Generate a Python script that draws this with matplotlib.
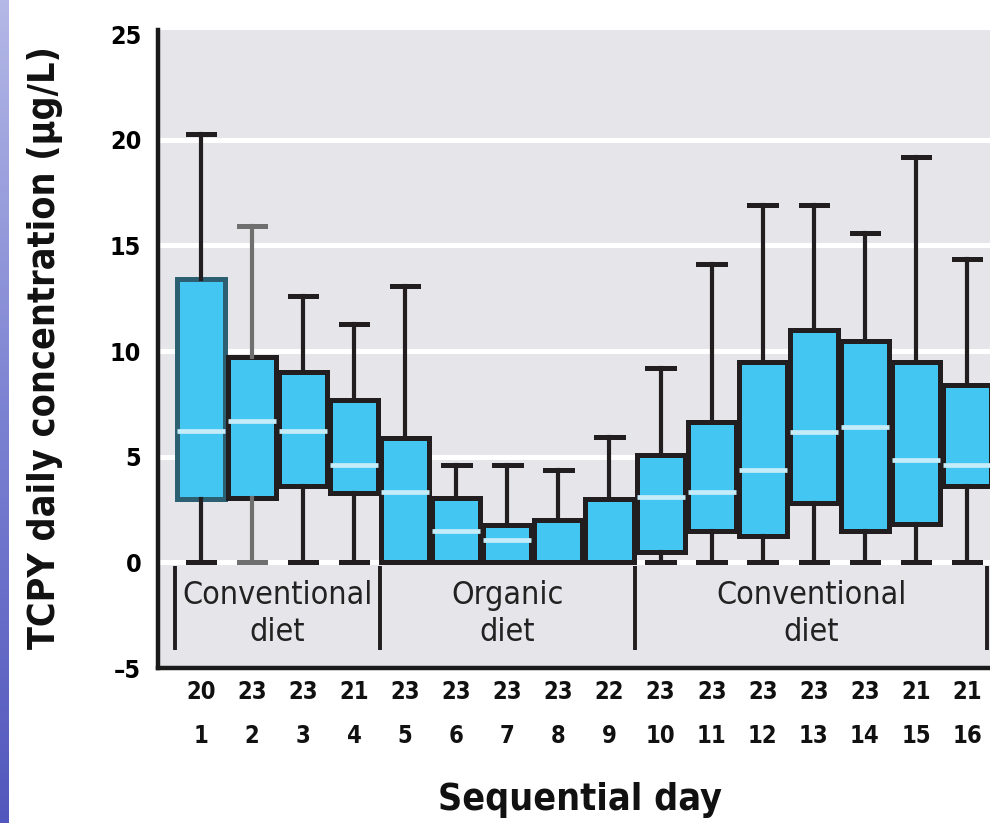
import numpy as np
import matplotlib
matplotlib.use('Agg')
import matplotlib.pyplot as plt
import matplotlib.transforms as mtransforms

plt.rcParams['font.family'] = ['DejaVu Sans']
plt.rcParams['font.stretch'] = 'condensed'

days = list(range(1, 17))
n_children = [20, 23, 23, 21, 23, 23, 23, 23, 22, 23, 23, 23, 23, 23, 21, 21]
whis_hi = [20.3, 15.9, 12.6, 11.3, 13.1, 4.6, 4.6, 4.35, 5.95, 9.2, 14.1, 16.9, 16.9, 15.6, 19.2, 14.35]
q3 = [13.4, 9.7, 9.0, 7.7, 5.9, 3.05, 1.75, 2.0, 3.0, 5.1, 6.65, 9.5, 11.0, 10.5, 9.5, 8.4]
median = [6.2, 6.7, 6.2, 4.6, 3.35, 1.5, 1.05, np.nan, np.nan, 3.1, 3.35, 4.35, 6.15, 6.4, 4.85, 4.6]
q1 = [3.0, 3.05, 3.6, 3.3, 0, 0, 0, 0, 0, 0.5, 1.5, 1.25, 2.8, 1.5, 1.8, 3.6]
whis_lo = [0] * 16

groups = ['Conventional\ndiet', 'Organic\ndiet', 'Conventional\ndiet']
group_edges = [0.5, 4.5, 9.5, 16.4]

COLORS = {
    'box': '#43c6f2',
    'edge': '#221e1f',
    'median': '#c6ecfa',
    'bg': '#e6e6ea',
    'grid': 'white',
}

fig = plt.figure(figsize=(9.9, 8.23), dpi=100)
ax = fig.add_axes([158 / 990, 1 - 668 / 823, 1 - 158 / 990, (668 - 30) / 823])
ax.set_facecolor(COLORS['bg'])

stats = [dict(med=m, q1=a, q3=b, whislo=lo, whishi=hi, fliers=[])
         for m, a, b, lo, hi in zip(median, q1, q3, whis_lo, whis_hi)]
bp = ax.bxp(stats, positions=days, widths=0.94, capwidths=0.52, patch_artist=True,
            showfliers=False,
            boxprops=dict(facecolor=COLORS['box'], edgecolor=COLORS['edge'], linewidth=3.6),
            whiskerprops=dict(color=COLORS['edge'], linewidth=3.0),
            capprops=dict(color=COLORS['edge'], linewidth=3.6),
            medianprops=dict(color=COLORS['median'], linewidth=3.4),
            zorder=3)

# the first day's box is highlighted in the original figure
bp['boxes'][0].set_edgecolor('#2d5f72')
for w in bp['whiskers'][2:4] + bp['caps'][2:4]:
    w.set_color('#6f6f6f')

for y in [0, 5, 10, 15, 20]:
    ax.axhline(y, color=COLORS['grid'], linewidth=3.6, zorder=1)

ax.set_xlim(0.16, 16.45)
ax.set_ylim(-5, 25.2)
ax.set_yticks([-5, 0, 5, 10, 15, 20, 25])
ax.set_yticklabels(['\u20135', '0', '5', '10', '15', '20', '25'],
                   fontsize=18, fontweight='bold')
ax.tick_params(axis='y', length=0, pad=12)
ax.set_xticks([])

for s in ['top', 'right']:
    ax.spines[s].set_visible(False)
ax.spines['left'].set_linewidth(3.2)
ax.spines['bottom'].set_linewidth(3.2)
ax.spines['left'].set_color('#1a1a1a')
ax.spines['bottom'].set_color('#1a1a1a')

# diet group band
ax.vlines(group_edges, -4.15, -0.15, color=COLORS['edge'], linewidth=2.8, zorder=2)
for i, g in enumerate(groups):
    xc = (group_edges[i] + group_edges[i + 1]) / 2
    ax.text(xc, -2.45, g, ha='center', va='center', fontsize=23,
            color='#222222', linespacing=1.25)

trans = mtransforms.blended_transform_factory(ax.transData, fig.transFigure)
for d, n in zip(days, n_children):
    ax.text(d, 1 - 692 / 823, str(n), transform=trans, ha='center', va='center',
            fontsize=17, fontweight='bold', color='#111111')
    ax.text(d, 1 - 736 / 823, str(d), transform=trans, ha='center', va='center',
            fontsize=17, fontweight='bold', color='#111111')

fig.text(580 / 990, 1 - 800 / 823, 'Sequential day', ha='center', va='center',
         fontsize=27, fontweight='bold', color='#111111')
fig.text(45 / 990, 1 - 348 / 823, 'TCPY daily concentration (\u00b5g/L)',
         ha='center', va='center', rotation=90, fontsize=27,
         fontweight='bold', color='#111111')

# blue strip on the left edge
strip = fig.add_axes([0, 0, 9 / 990, 1])
grad = np.linspace(0, 1, 256).reshape(-1, 1)
strip.imshow(grad, aspect='auto', cmap=matplotlib.colors.LinearSegmentedColormap.from_list(
    'strip', ['#b4b8e6', '#7c82d2', '#5257bd']), origin='upper')
strip.axis('off')

fig.savefig('out.png', dpi=100)
